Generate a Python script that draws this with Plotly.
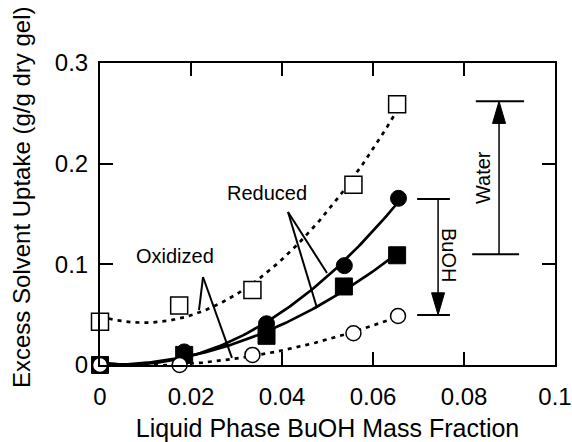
import numpy as np
import plotly.graph_objects as go

# ---- data ----
x_open_sq = [0.0, 0.0174, 0.0335, 0.0557, 0.0653]
y_open_sq = [0.043, 0.059, 0.0745, 0.179, 0.259]

x_fill_sq = [0.0, 0.0185, 0.0366, 0.0536, 0.0653]
y_fill_sq = [0.0, 0.010, 0.029, 0.078, 0.109]

x_fill_ci = [0.0, 0.0185, 0.0366, 0.0537, 0.0656]
y_fill_ci = [0.0, 0.013, 0.041, 0.0987, 0.1656]

x_open_ci = [0.0, 0.0175, 0.0335, 0.0557, 0.0655]
y_open_ci = [0.0, 0.0, 0.010, 0.0315, 0.0487]

x_ticks = [0, 0.02, 0.04, 0.06, 0.08, 0.1]
x_tick_text = ["0", "0.02", "0.04", "0.06", "0.08", "0.1"]
y_ticks = [0, 0.1, 0.2, 0.3]
y_tick_text = ["0", "0.1", "0.2", "0.3"]

FONT = "Liberation Sans, Arial, Helvetica, sans-serif"

def fit_curve(xs, ys, deg=2, n=120):
    c = np.polyfit(xs, ys, deg)
    xx = np.linspace(0, max(xs), n)
    return xx, np.polyval(c, xx)

fig = go.Figure()

dotted = "4px,5px"
for xs, ys, dash in [(x_open_sq, y_open_sq, dotted), (x_fill_sq, y_fill_sq, "solid"),
                     (x_fill_ci, y_fill_ci, "solid"), (x_open_ci, y_open_ci, dotted)]:
    xx, yy = fit_curve(xs, ys)
    fig.add_trace(go.Scatter(x=xx, y=yy, mode="lines", showlegend=False, hoverinfo="skip",
                             line=dict(color="black", width=2.7, dash=dash), cliponaxis=False))

fig.add_trace(go.Scatter(x=x_open_sq, y=y_open_sq, mode="markers", name="Oxidized water",
                         marker=dict(symbol="square", size=17, color="white",
                                     line=dict(color="black", width=1.5)), cliponaxis=False))
fig.add_trace(go.Scatter(x=x_fill_sq, y=y_fill_sq, mode="markers", name="Reduced water",
                         marker=dict(symbol="square", size=17, color="black",
                                     line=dict(color="black", width=1)), cliponaxis=False))
fig.add_trace(go.Scatter(x=x_fill_ci, y=y_fill_ci, mode="markers", name="Reduced BuOH",
                         marker=dict(symbol="circle", size=16, color="black",
                                     line=dict(color="black", width=1)), cliponaxis=False))
fig.add_trace(go.Scatter(x=x_open_ci, y=y_open_ci, mode="markers", name="Oxidized BuOH",
                         marker=dict(symbol="circle", size=15, color="white",
                                     line=dict(color="black", width=1.5)), cliponaxis=False))

# callout lines
callouts = [
    ((0.02264, 0.0874), (0.02176, 0.0546)),
    ((0.02264, 0.0874), (0.0290, 0.0070)),
    ((0.04132, 0.1520), (0.04989, 0.0914)),
    ((0.04132, 0.1520), (0.04769, 0.0566)),
]
for (x0, y0), (x1, y1) in callouts:
    fig.add_shape(type="line", x0=x0, y0=y0, x1=x1, y1=y1, xref="x", yref="y",
                  line=dict(color="black", width=2))

# Water arrow (from reduced-water end value to oxidized-water end value)
wx = 0.0877
w_top, w_bot = y_open_sq[-1] + 0.003, y_fill_sq[-1] + 0.001
fig.add_shape(type="line", x0=0.0826, x1=0.0932, y0=w_top, y1=w_top, line=dict(color="black", width=2))
fig.add_shape(type="line", x0=0.0818, x1=0.0921, y0=w_bot, y1=w_bot, line=dict(color="black", width=2))
fig.add_shape(type="line", x0=wx, x1=wx, y0=w_bot, y1=w_top - 0.015, line=dict(color="black", width=1.5))
hw = 0.00143
fig.add_shape(type="path", path=f"M {wx},{w_top} L {wx-hw},{w_top-0.022} L {wx+hw},{w_top-0.022} Z",
              fillcolor="black", line=dict(color="black", width=1))

# BuOH arrow
bx = 0.0743
b_top, b_bot = y_fill_ci[-1] - 0.0007, y_open_ci[-1] + 0.001
fig.add_shape(type="line", x0=0.0697, x1=0.0769, y0=b_top, y1=b_top, line=dict(color="black", width=2))
fig.add_shape(type="line", x0=0.0697, x1=0.0769, y0=b_bot, y1=b_bot, line=dict(color="black", width=2))
fig.add_shape(type="line", x0=bx, x1=bx, y0=b_top, y1=b_bot + 0.015, line=dict(color="black", width=1.5))
fig.add_shape(type="path", path=f"M {bx},{b_bot} L {bx-hw},{b_bot+0.022} L {bx+hw},{b_bot+0.022} Z",
              fillcolor="black", line=dict(color="black", width=1))

ann_font = dict(family=FONT, size=20, color="black")
fig.add_annotation(x=0.01648, y=0.1083, text="Oxidized", showarrow=False, font=ann_font)
fig.add_annotation(x=0.0367, y=0.1709, text="Reduced", showarrow=False, font=ann_font)
fig.add_annotation(x=0.0842, y=0.1858, text="Water", showarrow=False, font=ann_font, textangle=-90)
fig.add_annotation(x=0.0767, y=0.1093, text="BuOH", showarrow=False, font=ann_font, textangle=90)

# y-axis title (placed at pixel position converted to paper coordinates)
L, R, T, B = 100, 17, 63, 77
W, H = 572, 442
fig.add_annotation(x=(21 - L) / (W - L - R), y=(H - B - 197) / (H - T - B), xref="paper", yref="paper",
                   xanchor="center", yanchor="middle",
                   text="Excess Solvent Uptake (g/g dry gel)",
                   showarrow=False, textangle=-90, font=dict(family=FONT, size=24, color="black"))

axis_common = dict(showgrid=False, zeroline=False, ticks="inside", ticklen=13, tickwidth=2,
                   tickcolor="black", showline=True, linecolor="black", linewidth=2, mirror="ticks",
                   automargin=False)

fig.update_layout(
    width=W, height=H,
    margin=dict(l=L, r=R, t=T, b=B, autoexpand=False),
    paper_bgcolor="white", plot_bgcolor="white",
    showlegend=False,
    font=dict(family=FONT, color="black"),
    xaxis=dict(range=[0, 0.1], tickvals=x_ticks, ticktext=x_tick_text,
               tickfont=dict(size=24), ticklabelstandoff=9,
               title=dict(text="Liquid Phase BuOH Mass Fraction", font=dict(size=25), standoff=16),
               **axis_common),
    yaxis=dict(range=[0, 0.3], tickvals=y_ticks, ticktext=y_tick_text,
               tickfont=dict(size=24), ticklabelstandoff=5, **axis_common),
)

fig.write_html("out.html")
